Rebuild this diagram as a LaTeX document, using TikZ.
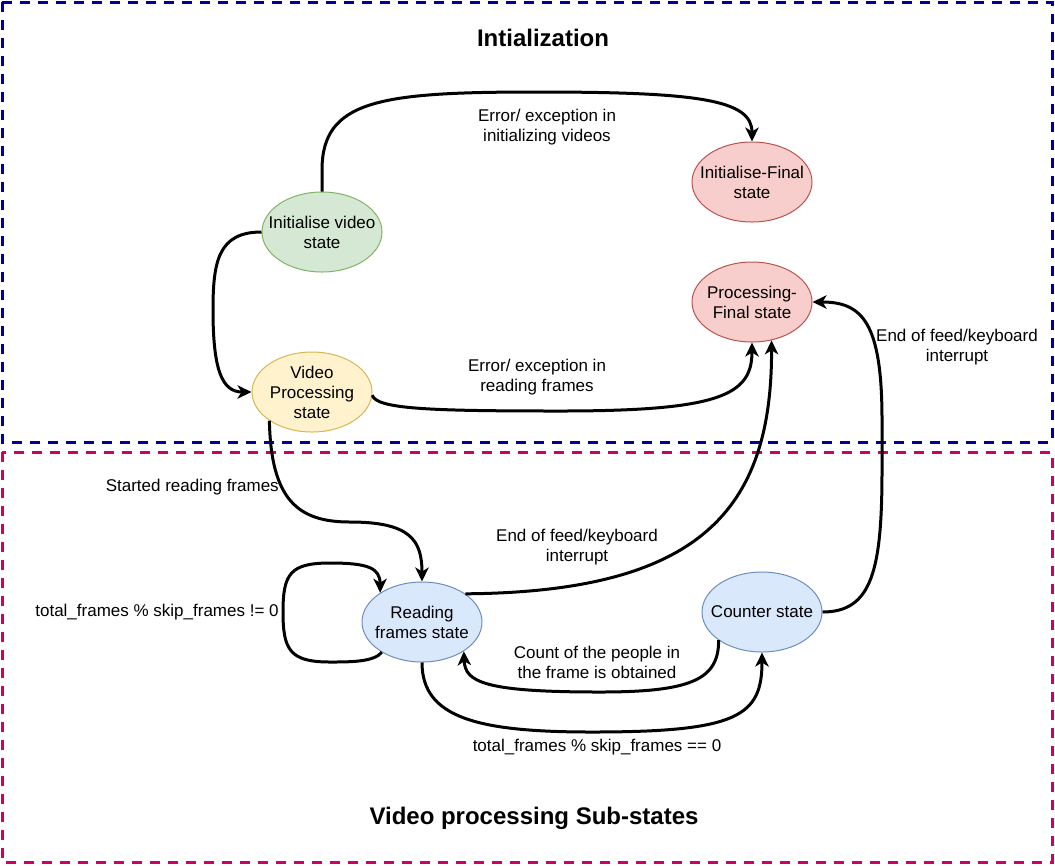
\documentclass[tikz,border=0pt]{standalone}
\usepackage{fontspec}
\setmainfont{Liberation Sans}
\usetikzlibrary{arrows.meta,shapes.geometric}
\definecolor{gfill}{HTML}{D5E8D4}\definecolor{gdraw}{HTML}{82B366}
\definecolor{yfill}{HTML}{FFF2CC}\definecolor{ydraw}{HTML}{D6B656}
\definecolor{rfill}{HTML}{F8CECC}\definecolor{rdraw}{HTML}{B85450}
\definecolor{bfill}{HTML}{DAE8FC}\definecolor{bdraw}{HTML}{6C8EBF}
\definecolor{fblue}{HTML}{000099}\definecolor{fpink}{HTML}{CC0066}
\begin{document}
\begin{tikzpicture}[x=0.75pt,y=-0.75pt,
  lbl/.style={align=center, inner sep=0pt, font=\fontsize{12.75pt}{15pt}\selectfont},
  stnode/.style={ellipse, draw, line width=0.75pt, minimum width=90pt, minimum height=60pt, inner sep=0pt},
  conn/.style={line width=2.25pt, -{Stealth[length=10.5pt,width=10pt,inset=3pt]}},
  ttl/.style={inner sep=0pt, font=\fontsize{18pt}{21pt}\selectfont\bfseries},
  frame/.style={line width=2.25pt, dash pattern=on 7.5pt off 6pt}]
\useasboundingbox (0,0) rectangle (1055,865);
\draw[frame, draw=fblue] (2,2) rectangle (1052,442);
\draw[frame, draw=fpink] (2,452) rectangle (1052,862);
\node[ttl] (t1) at (543,38) {Intialization};
\node[ttl] (t2) at (534,818) {Video processing Sub-states};

\node[stnode, fill=gfill, draw=gdraw, label={[lbl]center:{Initialise video\\state}}] (iv) at (322,232) {};
\node[stnode, fill=rfill, draw=rdraw, label={[lbl]center:{Initialise-Final\\state}}] (ivf) at (752,182) {};
\node[stnode, fill=rfill, draw=rdraw, label={[lbl]center:{Processing-\\Final state}}] (pf) at (752,302) {};
\node[stnode, fill=yfill, draw=ydraw, label={[lbl]center:{Video\\Processing\\state}}] (vp) at (312,392) {};
\node[stnode, fill=bfill, draw=bdraw, label={[lbl]center:{Reading\\frames state}}] (rf) at (422,622) {};
\node[stnode, fill=bfill, draw=bdraw, label={[lbl]center:{Counter state}}] (cs) at (762,612) {};

% Initialise video -> Initialise-Final
\draw[conn] (iv.north) -- (322,170) .. controls (322,100) and (380,92) .. (537,92)
  .. controls (700,92) and (752,100) .. (ivf.north);
\node[lbl] (l1) at (547,127) {Error/ exception in\\initializing videos};

% Initialise video -> Video processing
\draw[conn] (iv.west) .. controls (218,232) and (213,262) .. (213,310)
  .. controls (213,370) and (222,392) .. (vp.west);

% Video processing -> Processing-Final
\draw[conn] (vp.-3) .. controls (376,409) and (430,411) .. (560,411)
  .. controls (720,411) and (752,395) .. (pf.south);
\node[lbl] (l2) at (537,377) {Error/ exception in\\reading frames};

% Video processing -> Reading frames
\draw[conn] (vp.214) .. controls (271,500) and (298,522) .. (350,522)
  .. controls (410,522) and (422,540) .. (rf.north);
\node[lbl, anchor=east] (l3) at (279,487) {Started reading frames};

% Reading frames -> Processing-Final
\draw[conn] (rf.33) .. controls (700,592) and (772,510) .. (pf.-63);
\node[lbl] (l4) at (577,547) {End of feed/keyboard\\interrupt};

% Counter -> Processing-Final
\draw[conn] (cs.east) .. controls (872,612) and (882,570) .. (882,470) -- (882,420)
  .. controls (882,322) and (862,302) .. (pf.east);
\node[lbl] (l5) at (957,347) {End of feed/keyboard\\interrupt};

% self loop
\draw[conn] (rf.217) .. controls (374,662) and (350,662) .. (330,662)
  .. controls (290,662) and (283,650) .. (283,612)
  .. controls (283,574) and (290,563) .. (330,563)
  .. controls (368,563) and (380,568) .. (rf.145);
\node[lbl] (l6) at (157,612) {total\_frames \% skip\_frames != 0};

% Counter -> Reading frames
\draw[conn] (cs.213) .. controls (719,680) and (690,692) .. (600,692)
  .. controls (484,692) and (465,682) .. (rf.-35);
\node[lbl] (l7) at (597,662) {Count of the people in\\the frame is obtained};

% Reading frames -> Counter
\draw[conn] (rf.south) .. controls (422,718) and (478,732) .. (592,732)
  .. controls (738,732) and (762,716) .. (cs.south);
\node[lbl] (l8) at (597,747) {total\_frames \% skip\_frames == 0};
\end{tikzpicture}
\end{document}
